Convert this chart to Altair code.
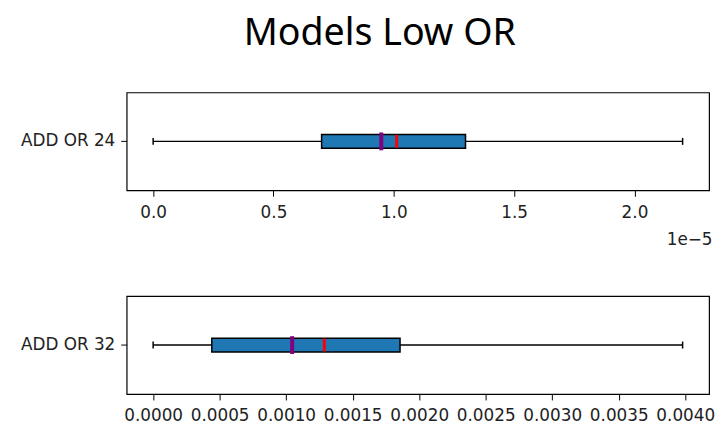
import altair as alt
import pandas as pd

# ---- data ----
models = ["ADD OR 24", "ADD OR 32"]
whisker_min = [0.0, 0.0]
q1 = [0.700e-5, 0.000441]
median = [1.012e-5, 0.001287]
q3 = [1.298e-5, 0.001856]
whisker_max = [2.200e-5, 0.003980]
mean = [0.948e-5, 0.001045]

x_domains = [[-0.11e-5, 2.31e-5], [-0.000199, 0.004179]]
tick_values = [
    [0.0, 0.5e-5, 1.0e-5, 1.5e-5, 2.0e-5],
    [0.0, 0.0005, 0.0010, 0.0015, 0.0020, 0.0025, 0.0030, 0.0035, 0.0040],
]
label_exprs = ["format(datum.value * 100000, '.1f')", "format(datum.value, '.4f')"]
axis_titles = ["1e\u22125", None]

FONT = "DejaVu Sans"
W, H = 589, 99


def panel(i):
    df = pd.DataFrame({
        "model": [models[i]],
        "lo": [whisker_min[i]],
        "q1": [q1[i]],
        "med": [median[i]],
        "q3": [q3[i]],
        "hi": [whisker_max[i]],
        "mean": [mean[i]],
    })
    axis_kw = dict(
        values=tick_values[i], labelExpr=label_exprs[i], grid=False, domain=False,
        tickSize=6, tickColor="black", labelFontSize=17, labelFont=FONT,
        labelColor="#222222", labelPadding=8,
    )
    if axis_titles[i]:
        axis_kw.update(title=axis_titles[i], titleAlign="right", titleX=W + 3,
                       titleFontWeight="normal", titleFont=FONT, titleFontSize=17,
                       titleColor="#222222", titlePadding=12)
    else:
        axis_kw.update(title=None)
    xscale = alt.Scale(domain=x_domains[i], nice=False, zero=False)
    y = alt.Y("model:N", title=None,
              axis=alt.Axis(tickSize=6, tickColor="black", domain=False, labelFontSize=17,
                            labelFont=FONT, labelColor="#222222", labelPadding=6,
                            minExtent=114.7, maxExtent=114.7))
    base = alt.Chart(df)
    whisk = base.mark_rule(color="black", strokeWidth=1.5).encode(
        x=alt.X("lo:Q", scale=xscale, axis=alt.Axis(**axis_kw)), x2="hi:Q", y=y)
    cap_lo = base.mark_tick(color="black", size=7, thickness=1.5, opacity=1).encode(x="lo:Q", y=y)
    cap_hi = base.mark_tick(color="black", size=7, thickness=1.5, opacity=1).encode(x="hi:Q", y=y)
    box = base.mark_bar(size=14, fill="#1f77b4", stroke="black", strokeWidth=1.5,
                        opacity=1).encode(x="q1:Q", x2="q3:Q", y=y)
    med = base.mark_tick(color="red", size=13, thickness=3, opacity=1).encode(x="med:Q", y=y)
    mn = base.mark_tick(color="purple", size=18, thickness=4, opacity=1).encode(x="mean:Q", y=y)
    return alt.layer(whisk, cap_lo, cap_hi, box, med, mn).properties(width=W, height=H)


chart = alt.vconcat(panel(0), panel(1), spacing=107, bounds="flush").properties(
    title=alt.TitleParams("Models Low OR", font="Noto Sans", fontSize=38,
                          fontWeight="normal", color="black", offset=39, anchor="middle",
                          dx=16),
    padding={"left": 4, "right": 0, "top": 5, "bottom": 2},
).configure(background="white").configure_view(stroke="black", strokeWidth=1.2)

chart.save("out.html", embed_options={"renderer": "svg", "actions": False})
